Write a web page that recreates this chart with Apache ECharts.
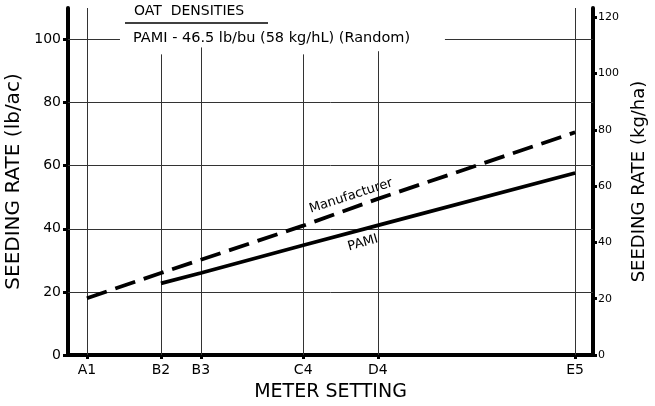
<!DOCTYPE html>
<html><head><meta charset="utf-8">
<script src="https://cdn.jsdelivr.net/npm/echarts@6/dist/echarts.min.js"></script>
<style>html,body{margin:0;padding:0;background:#fff}#c{width:655px;height:406px}</style>
</head><body><div id="c"></div>
<script>
// Meter settings and their positions along the horizontal scale
var settings = ['A1', 'B2', 'B3', 'C4', 'D4', 'E5'];
var settingPos = [3.6, 17.7, 25.3, 44.8, 59.0, 96.6];
// Seeding rate (lb/ac)
var manufacturer = [18.0, 26.0, 30.2, 41.0, 49.5, 70.6];
var pami = [null, 22.7, 26.0, 34.8, 41.1, 57.7];
// tick values
var leftTicks = [0, 20, 40, 60, 80, 100];
var rightTicks = [0, 20, 40, 60, 80, 100, 120];
var LB_TO_KG = 1.12085;
var yMax = 110;
// vertical guide tops (lb/ac) per setting
var guideTops = [110, 95.3, 97.5, 95.3, 96.3, 110];

var font = 'DejaVu Sans';
var chart = echarts.init(document.getElementById('c'));

function pairs(ys) {
  var out = [];
  for (var i = 0; i < settingPos.length; i++) if (ys[i] != null) out.push([settingPos[i], ys[i]]);
  return out;
}
var gridColor = '#333';
var markData = [];
[20, 40, 60, 80].forEach(function (v) {
  markData.push([{ coord: [0, v] }, { coord: [100, v] }]);
});
markData.push([{ coord: [0, 100] }, { coord: [9.9, 100] }]);
markData.push([{ coord: [71.8, 100] }, { coord: [100, 100] }]);
settingPos.forEach(function (p, i) {
  markData.push([{ coord: [p, 0] }, { coord: [p, guideTops[i]] }]);
});

var option = {
  animation: false,
  backgroundColor: '#fff',
  grid: { left: 68, right: 62, top: 8, bottom: 51, containLabel: false, outerBoundsMode: 'none' },
  xAxis: {
    type: 'value', min: 0, max: 100,
    name: 'METER SETTING', nameLocation: 'middle', nameGap: 28,
    nameTextStyle: { fontFamily: font, fontSize: 19, color: '#000' },
    axisLine: { lineStyle: { color: '#000', width: 4 } },
    axisTick: { show: true, length: 4, lineStyle: { color: '#000', width: 3 }, customValues: settingPos },
    axisLabel: {
      customValues: settingPos, margin: 8,
      fontFamily: font, fontSize: 14, color: '#000',
      formatter: function (v) { var i = settingPos.indexOf(v); return i >= 0 ? settings[i] : ''; }
    },
    splitLine: { show: false }
  },
  yAxis: [{
    type: 'value', min: 0, max: yMax, position: 'left',
    name: 'SEEDING RATE (lb/ac)', nameLocation: 'middle', nameGap: 36, nameRotate: 90,
    nameTextStyle: { fontFamily: font, fontSize: 20, color: '#000' },
    axisLine: { show: true, lineStyle: { color: '#000', width: 4 } },
    axisTick: { show: true, length: 5, lineStyle: { color: '#000', width: 3 }, customValues: leftTicks },
    axisLabel: { customValues: leftTicks, margin: 7, fontFamily: font, fontSize: 14, color: '#000' },
    splitLine: { show: false }
  }, {
    type: 'value', min: 0, max: yMax * LB_TO_KG, position: 'right',
    name: 'SEEDING RATE (kg/ha)', nameLocation: 'middle', nameGap: 35, nameRotate: 90,
    nameTextStyle: { fontFamily: font, fontSize: 18, color: '#000' },
    axisLine: { show: true, lineStyle: { color: '#000', width: 4 } },
    axisTick: { show: true, length: 4, lineStyle: { color: '#000', width: 3 }, customValues: rightTicks },
    axisLabel: { customValues: rightTicks, margin: 5, fontFamily: font, fontSize: 11, color: '#000' },
    splitLine: { show: false }
  }],
  series: [{
    type: 'line', name: 'grid', data: [], silent: true,
    markLine: { silent: true, symbol: 'none', label: { show: false },
      lineStyle: { color: gridColor, width: 1, type: 'solid' }, data: markData }
  }, {
    type: 'line', name: 'Manufacturer', data: pairs(manufacturer), showSymbol: false,
    lineStyle: { color: '#000', width: 3.8, type: [21, 9] }, z: 5
  }, {
    type: 'line', name: 'PAMI', data: pairs(pami), showSymbol: false,
    lineStyle: { color: '#000', width: 3.8, type: 'solid' }, z: 5
  }],
  graphic: [
    { type: 'text', left: 134, top: 4, style: { text: 'OAT  DENSITIES', font: '14px "DejaVu Sans"', fill: '#000' } },
    { type: 'line', shape: { x1: 125, y1: 23, x2: 268, y2: 23 }, style: { stroke: '#000', lineWidth: 1.5 } },
    { type: 'text', left: 133, top: 31, style: { text: 'PAMI - 46.5 lb/bu (58 kg/hL) (Random)', font: '14.5px "DejaVu Sans"', fill: '#000' } },
    { type: 'text', x: 351, y: 196, rotation: 18 * Math.PI / 180, style: { text: 'Manufacturer', font: '13px "DejaVu Sans"', fill: '#000', align: 'center', verticalAlign: 'middle' } },
    { type: 'text', x: 363, y: 243, rotation: 16 * Math.PI / 180, style: { text: 'PAMI', font: '13px "DejaVu Sans"', fill: '#000', align: 'center', verticalAlign: 'middle' } }
  ]
};
chart.setOption(option);
</script></body></html>
